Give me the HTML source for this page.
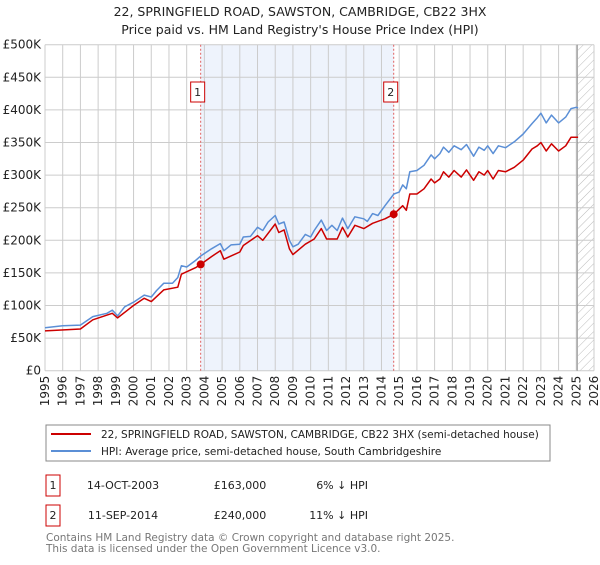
<!DOCTYPE html>
<html><head><meta charset="utf-8"><style>
body{margin:0;background:#fff;font-family:"Liberation Sans","DejaVu Sans",sans-serif;}
svg text{font-family:"DejaVu Sans","Liberation Sans",sans-serif;}
</style></head><body>
<svg width="600" height="560" viewBox="0 0 600 560" xmlns="http://www.w3.org/2000/svg">
<defs><pattern id="hatch" width="6" height="6" patternUnits="userSpaceOnUse" patternTransform="rotate(45)"><line x1="0" y1="0" x2="0" y2="6" stroke="#bbb" stroke-width="1"/></pattern></defs>
<text x="300" y="16" text-anchor="middle" font-size="12.5" fill="#222">22, SPRINGFIELD ROAD, SAWSTON, CAMBRIDGE, CB22 3HX</text>
<text x="300" y="34" text-anchor="middle" font-size="12.5" fill="#222">Price paid vs. HM Land Registry's House Price Index (HPI)</text>
<g id="plot"></g>
<g>
<rect x="46" y="425" width="504" height="36" fill="#fff" stroke="#888"/>
<line x1="51" y1="434" x2="91" y2="434" stroke="#cc0000" stroke-width="2"/>
<text x="101" y="438" font-size="10.5" fill="#222">22, SPRINGFIELD ROAD, SAWSTON, CAMBRIDGE, CB22 3HX (semi-detached house)</text>
<line x1="51" y1="451" x2="91" y2="451" stroke="#5b8fd6" stroke-width="2"/>
<text x="101" y="455" font-size="10.5" fill="#222">HPI: Average price, semi-detached house, South Cambridgeshire</text>
</g>
<g font-size="11" fill="#222">
<rect x="46" y="475" width="14" height="21" fill="none" stroke="#cc0000"/><text x="53" y="489" text-anchor="middle">1</text>
<text x="123" y="489" text-anchor="middle">14-OCT-2003</text><text x="240" y="489" text-anchor="middle">£163,000</text><text x="368" y="489" text-anchor="end">6% ↓ HPI</text>
<rect x="46" y="505" width="14" height="21" fill="none" stroke="#cc0000"/><text x="53" y="519" text-anchor="middle">2</text>
<text x="123" y="519" text-anchor="middle">11-SEP-2014</text><text x="240" y="519" text-anchor="middle">£240,000</text><text x="368" y="519" text-anchor="end">11% ↓ HPI</text>
</g>
<text x="46" y="541" font-size="10.5" fill="#777">Contains HM Land Registry data © Crown copyright and database right 2025.</text>
<text x="46" y="552" font-size="10.5" fill="#777">This data is licensed under the Open Government Licence v3.0.</text>
</svg>
<script>
const yTicks=[0,50,100,150,200,250,300,350,400,450,500];
const yTickLabels=["£0","£50K","£100K","£150K","£200K","£250K","£300K","£350K","£400K","£450K","£500K"];
const xYears=[1995,1996,1997,1998,1999,2000,2001,2002,2003,2004,2005,2006,2007,2008,2009,2010,2011,2012,2013,2014,2015,2016,2017,2018,2019,2020,2021,2022,2023,2024,2025,2026];
const hpiT=[1995,1996,1997,1997.7,1998.5,1998.8,1999.1,1999.5,2000,2000.6,2001,2001.3,2001.7,2002.2,2002.5,2002.7,2003,2003.5,2003.8,2004.4,2004.9,2005.1,2005.5,2006,2006.2,2006.6,2007,2007.3,2007.6,2008,2008.2,2008.5,2008.8,2009,2009.3,2009.7,2010,2010.2,2010.6,2010.9,2011.2,2011.5,2011.8,2012.1,2012.5,2013,2013.2,2013.5,2013.8,2014.2,2014.7,2015,2015.2,2015.4,2015.6,2016,2016.4,2016.8,2017,2017.3,2017.5,2017.8,2018.1,2018.5,2018.8,2019.2,2019.5,2019.8,2020,2020.3,2020.6,2021,2021.5,2022,2022.5,2022.8,2023,2023.3,2023.6,2024,2024.4,2024.7,2025,2025.1];
const hpiV=[66,69,70,83,88,93,84,98,105,116,113,123,134,134,143,161,159,169,176,187,195,184,193,194,205,206,220,215,228,238,225,228,200,190,194,209,205,215,231,215,223,215,234,218,236,233,229,241,238,253,271,274,285,279,305,307,315,331,325,333,343,335,345,339,347,329,343,338,345,333,345,342,351,363,379,388,395,380,392,380,389,402,404,403];
const ppT=[1995,1997,1997.7,1998.8,1999.1,2000,2000.6,2001,2001.7,2002.5,2002.7,2003.5,2003.79,2004.4,2004.9,2005.1,2006,2006.2,2007,2007.3,2008,2008.2,2008.5,2008.8,2009,2009.7,2010.2,2010.6,2010.9,2011.5,2011.8,2012.1,2012.5,2013,2013.5,2014.2,2014.7,2015.2,2015.4,2015.6,2016,2016.4,2016.8,2017,2017.3,2017.5,2017.8,2018.1,2018.5,2018.8,2019.2,2019.5,2019.8,2020,2020.3,2020.6,2021,2021.5,2022,2022.5,2022.8,2023,2023.3,2023.6,2024,2024.4,2024.7,2025.1];
const ppV=[61,64,78,88,81,100,111,106,124,128,148,158,163,175,184,171,182,192,207,200,225,212,216,187,178,194,202,218,202,202,220,205,223,218,226,233,240,253,246,271,271,279,294,288,294,305,297,307,297,308,292,305,300,307,294,307,305,312,323,340,345,350,337,348,337,345,358,358];
const saleT=[2003.79,2014.69];
const saleV=[163,240];
const saleLabels=["1","2"];
const NS="http://www.w3.org/2000/svg";
const X0=45,X1=594,Y0=370.7,Y1=44.7;
const xs=t=>X0+(t-1995)/(2026-1995)*(X1-X0);
const ys=v=>Y0-v/500*(Y0-Y1);
const g=document.getElementById('plot');
function mk(tag,attrs,parent){const e=document.createElementNS(NS,tag);for(const k in attrs)e.setAttribute(k,attrs[k]);(parent||g).appendChild(e);return e;}
let r=mk('rect',{x:X0,y:Y1,width:X1-X0,height:Y0-Y1,fill:'#fff'});


let sh=mk('rect',{x:xs(saleT[0]),y:Y1,width:xs(saleT[1])-xs(saleT[0]),height:Y0-Y1,fill:'#eef3fc'});


let ht=mk('rect',{x:xs(2025.1),y:Y1,width:X1-xs(2025.1),height:Y0-Y1,fill:'url(#hatch)'});


yTicks.forEach((v,i)=>{
 const l=mk('line',{x1:X0,x2:X1,y1:ys(v),y2:ys(v),stroke:'#ccc','stroke-width':1});
 
 
 const t=mk('text',{x:X0-4,y:ys(v)+4,'text-anchor':'end','font-size':12,fill:'#222'});
 t.textContent=yTickLabels[i];
 
 
});
xYears.forEach(yr=>{
 const l=mk('line',{x1:xs(yr),x2:xs(yr),y1:Y1,y2:Y0,stroke:'#ccc','stroke-width':1});
 
 
 const t=mk('text',{x:xs(yr)+4,y:Y0+5,'text-anchor':'end','font-size':12,fill:'#222',transform:`rotate(-90 ${xs(yr)+4} ${Y0+5})`});
 t.textContent=String(yr);
 
 
});
let v25=mk('line',{x1:xs(2025.05),x2:xs(2025.05),y1:Y1,y2:Y0,stroke:'#888','stroke-width':1});


saleT.forEach((t,i)=>{
 const l=mk('line',{x1:xs(t),x2:xs(t),y1:Y1,y2:Y0,stroke:'#e06060','stroke-width':1,'stroke-dasharray':'2,2'});
 
 
});
function path(T,V,color,name){
 const d=T.map((t,i)=>(i?'L':'M')+xs(t).toFixed(1)+','+ys(V[i]).toFixed(1)).join('');
 const p=mk('path',{d:d,fill:'none',stroke:color,'stroke-width':1.5,'stroke-linejoin':'round'});
 
 
}
path(hpiT,hpiV,'#5b8fd6','hpi-line');
path(ppT,ppV,'#cc0000','price-paid-line');
saleT.forEach((t,i)=>{
 const c=mk('circle',{cx:xs(t),cy:ys(saleV[i]),r:4,fill:'#cc0000'});
 
 
 const bx=xs(t)-10;
 const b=mk('rect',{x:bx,y:82,width:14,height:20,fill:'#fff',stroke:'#cc0000'});
 
 
 const tx=mk('text',{x:bx+7,y:96,'text-anchor':'middle','font-size':11,fill:'#222'});
 tx.textContent=saleLabels[i];
 
 
});
</script>
</body></html>
